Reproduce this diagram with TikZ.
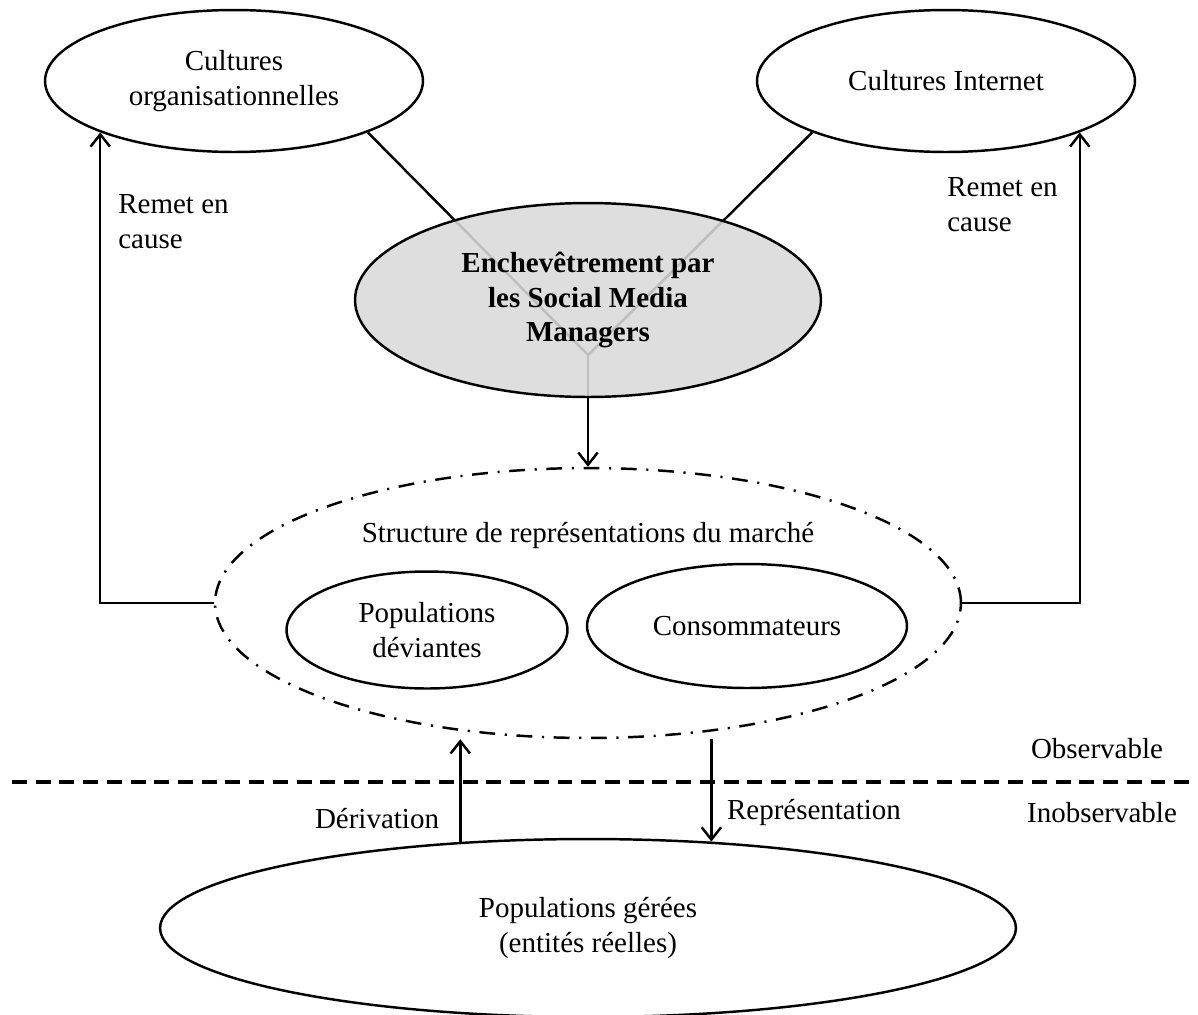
\documentclass[tikz,border=0pt]{standalone}
\usepackage{fontspec}
\setmainfont{Liberation Serif}
\usetikzlibrary{shapes.geometric, arrows.meta, positioning}

\begin{document}
\begin{tikzpicture}[x=0.02cm, y=-0.02cm,
    every node/.style={font=\fontsize{16.5}{19.8}\selectfont},
    bubble/.style={ellipse, draw, line width=1.4pt, inner sep=0pt, align=center},
    arr/.style={-{Straight Barb[length=7pt, width=11pt]}, line width=1.4pt}]
    \useasboundingbox (0,0) rectangle (1198,1015);

    % Cultures
    \node[bubble, minimum width=7.56cm, minimum height=2.84cm] at (234,81) (org) {Cultures\\organisationnelles};
    \node[bubble, minimum width=7.56cm, minimum height=2.84cm] at (946,81) (inet) {Cultures Internet};

    % Structure de representations
    \node[bubble, dash pattern=on 9pt off 5.5pt on 1.2pt off 5.5pt, minimum width=14.92cm, minimum height=5.4cm] at (588,603) (mkt) {};
    \node at (588,535) (mkttitle) {Structure de représentations du marché};
    \node[bubble, minimum width=5.62cm, minimum height=2.34cm] at (427,630) (dev) {Populations\\déviantes};
    \node[bubble, minimum width=6.4cm, minimum height=2.48cm] at (747,626) (cons) {Consommateurs};

    % Populations gerees
    \node[bubble, minimum width=17.12cm, minimum height=3.56cm] at (588,928) (pop) {Populations gérées\\(entités réelles)};

    % Y junction behind the central node
    \coordinate (junc) at (588,355);
    \draw[line width=1.4pt] (org.-21) -- (junc);
    \draw[line width=1.4pt] (inet.201) -- (junc);
    \draw[arr] (junc) -- (mkt.north);
    \node[bubble, fill=black!15, fill opacity=0.88, text opacity=1, font=\bfseries\fontsize{16.5}{19.8}\selectfont, minimum width=9.32cm, minimum height=3.88cm] at (588,300) (sm) {Enchevêtrement par\\les Social Media\\Managers};

    % Remet en cause
    \draw[arr] (mkt.west) -| (org.201);
    \draw[arr] (mkt.east) -| (inet.-21);
    \node[anchor=west, align=left, inner sep=0pt] at (118,222) (remL) {Remet en\\cause};
    \node[anchor=west, align=left, inner sep=0pt] at (947,205) (remR) {Remet en\\cause};

    % Observable / Inobservable
    \coordinate (sepL) at (12,782);
    \coordinate (sepR) at (1198,782);
    \draw[line width=1.8pt, dash pattern=on 8.5pt off 5pt] (sepL) -- (sepR);
    \node at (1097,749) (obs) {Observable};
    \node at (1102,813) (inobs) {Inobservable};

    % Derivation / Representation
    \draw[arr] (pop.146) -- (pop.146 |- mkt.south);
    \draw[arr] (mkt.south -| pop.35) -- (pop.35);
    \node at (377,819) (der) {Dérivation};
    \node at (814,812) (rep) {Représentation};
\end{tikzpicture}
\end{document}
